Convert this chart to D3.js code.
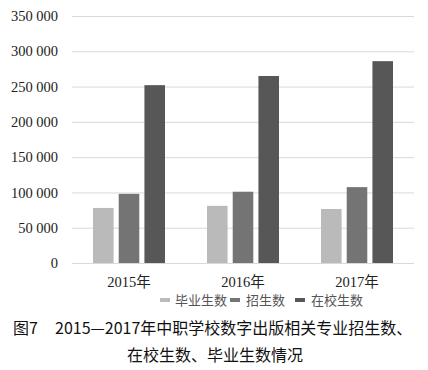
<!DOCTYPE html>
<html>
<head>
<meta charset="utf-8">
<script src="https://cdn.jsdelivr.net/npm/d3@7"></script>
<style>
  body { margin: 0; background: #fff; }
  svg { display: block; }
</style>
</head>
<body>
<div id="chart"></div>
<script>
// data
const years = ['2015年', '2016年', '2017年']
const seriesNames = ['毕业生数', '招生数', '在校生数']
const graduates = [78000, 81000, 76500]
const enrolled  = [98000, 101000, 107500]
const students  = [252000, 265000, 286000]
const yTicks = [0, 50000, 100000, 150000, 200000, 250000, 300000, 350000]

const colors = ['#bababa', '#747474', '#575757']
const series = [graduates, enrolled, students]

const W = 428, H = 370
const margin = { top: 16, right: 14, bottom: 107, left: 72 }
const width  = W - margin.left - margin.right
const height = H - margin.top - margin.bottom

const svg = d3.select('#chart').append('svg')
    .attr('width', W).attr('height', H)

const g = svg.append('g')
    .attr('transform', `translate(${margin.left},${margin.top})`)

const x0 = d3.scaleBand().domain(years).range([0, width]).paddingInner(0).paddingOuter(0)
const x1 = d3.scaleBand().domain(seriesNames).range([21, x0.bandwidth() - 21]).paddingInner(0.2)
const y = d3.scaleLinear().domain([0, 350000]).range([height, 0])

const fmt = d => d3.format(',')(d).replace(/,/g, ' ')

// grid + y labels
g.append('g')
    .call(d3.axisLeft(y).tickValues(yTicks).tickSize(-width).tickFormat(fmt))
    .attr('font-family', 'Liberation Serif')
    .call(a => a.select('.domain').remove())
    .call(a => a.selectAll('.tick line').attr('stroke', '#d9d9d9').attr('stroke-width', 1))
    .call(a => a.selectAll('text')
        .attr('x', -14)
        .attr('font-size', 14.5)
        .attr('fill', '#222'))

// bars
const groups = g.selectAll('.year')
    .data(years)
    .join('g')
    .attr('transform', d => `translate(${x0(d)},0)`)

groups.selectAll('rect')
    .data((d, i) => series.map((s, k) => ({ name: seriesNames[k], value: s[i], k })))
    .join('rect')
    .attr('x', d => x1(d.name))
    .attr('width', x1.bandwidth())
    .attr('y', d => y(d.value))
    .attr('height', d => height - y(d.value))
    .attr('fill', d => colors[d.k])

// x labels
g.append('g')
    .attr('transform', `translate(0,${height})`)
    .call(d3.axisBottom(x0).tickSize(0))
    .attr('font-family', 'Liberation Serif, Noto Sans CJK SC')
    .call(a => a.select('.domain').remove())
    .call(a => a.selectAll('text')
        .attr('dy', '1.45em')
        .attr('font-size', 14.5)
        .attr('fill', '#222'))

// legend
const legendX = [160, 230, 295]
const legend = svg.append('g').attr('transform', 'translate(0,300)')
seriesNames.forEach((n, i) => {
    legend.append('rect')
        .attr('x', legendX[i]).attr('y', -2)
        .attr('width', 10).attr('height', 4)
        .attr('fill', colors[i])
    legend.append('text')
        .attr('x', legendX[i] + (i === 0 ? 15 : 16))
        .attr('dy', '0.35em')
        .style('font-family', '"Noto Sans CJK SC", sans-serif')
        .style('font-size', '13px')
        .style('fill', '#555')
        .text(n)
})

// caption
const cap = svg.append('g')
    .style('font-family', '"Noto Sans CJK SC", sans-serif')
    .style('font-size', '16px')
    .style('fill', '#111')
cap.append('text').attr('x', 13).attr('y', 334).text('图7')
cap.append('text').attr('x', 55).attr('y', 334).text('2015—2017年中职学校数字出版相关专业招生数、')
cap.append('text').attr('x', 215).attr('y', 361).attr('text-anchor', 'middle').text('在校生数、毕业生数情况')
</script>
</body>
</html>
